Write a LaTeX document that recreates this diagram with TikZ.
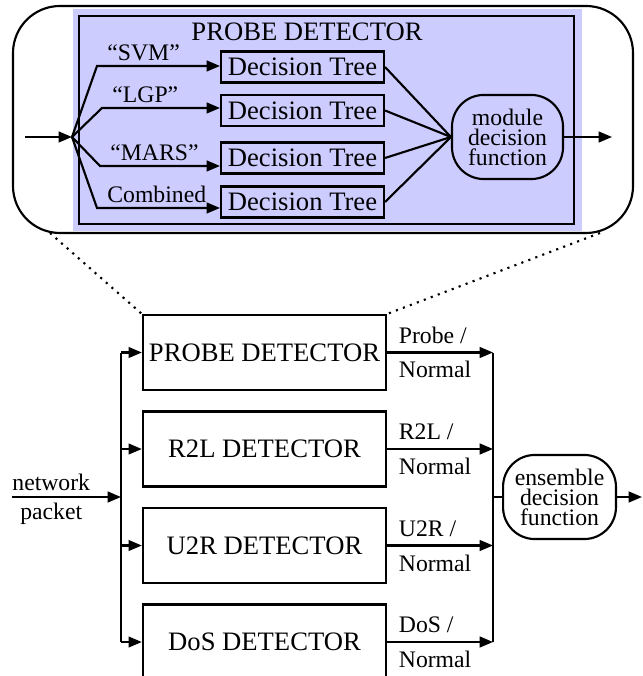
\documentclass[tikz,border=0pt]{standalone}
\usepackage{fontspec}
\setmainfont{Liberation Serif}
\usetikzlibrary{arrows.meta}

\tikzset{
    >={Triangle[length=5pt,width=4pt]},
    smallfont/.style={font=\fontsize{8.9pt}{7.5pt}\selectfont},
    treebox/.style={draw,thick,minimum width=2.15cm,minimum height=0.41cm,inner sep=1pt},
    detbox/.style={draw,thick,minimum width=3.21cm,minimum height=0.99cm,inner sep=1pt},
    decfun/.style={draw,thick,rounded corners=0.42cm,align=center,inner sep=0pt,
        minimum height=1.11cm,smallfont},
    arclabel/.style={inner sep=1.5pt,xshift=2pt,anchor=south west,smallfont},
    outlabel/.style={inner sep=3pt,xshift=1pt,smallfont},
}

\begin{document}
\begin{tikzpicture}[x=0.0132cm,y=-0.0132cm,thick]
    \useasboundingbox (0,0) rectangle (642,676);
    \draw[rounded corners=0.62cm] (13,6) rectangle (633,233);
    \fill[blue!20] (73,9) rectangle (582,231);
    \draw (79,16) rectangle (574,224);
    \node (title) at (307,32) {PROBE DETECTOR};
    \node[treebox] (svm) at (302.5,67) {Decision Tree};
    \node[treebox] (lgp) at (302.5,110.5) {Decision Tree};
    \node[treebox] (mars) at (302.5,158) {Decision Tree};
    \node[treebox] (comb) at (302.5,202) {Decision Tree};
    \node[decfun,minimum width=1.465cm] (mdf) at (507.5,137) {module\\decision\\function};
    \coordinate (pin) at (25,137);
    \coordinate (fork) at (72,137);
    \coordinate (bsvm) at (97,66);
    \coordinate (blgp) at (102,108);
    \coordinate (bmars) at (100,166);
    \coordinate (bcomb) at (97,208);
    \coordinate (pout) at (612,137);
    \draw[->] (pin) -- (fork);
    \draw[->] (fork) -- (bsvm) node[arclabel]{``SVM''} -- (bsvm -| svm.west);
    \draw[->] (fork) -- (blgp) node[arclabel]{``LGP''} -- (blgp -| lgp.west);
    \draw[->] (fork) -- (bmars) node[arclabel]{``MARS''} -- (bmars -| mars.west);
    \draw[->] (fork) -- (bcomb) node[arclabel]{Combined} -- (bcomb -| comb.west);
    \foreach \t in {svm,lgp,mars,comb}
        \draw (\t.east) -- (mdf.west);
    \draw[->] (mdf) -- (pout);

    \node[detbox] (probe) at (264.5,352.5) {PROBE DETECTOR};
    \node[detbox] (r2l) at (264.5,449) {R2L DETECTOR};
    \node[detbox] (u2r) at (264.5,545.5) {U2R DETECTOR};
    \node[detbox] (dos) at (264.5,642) {DoS DETECTOR};
    \coordinate (zl) at (50,233);
    \coordinate (zr) at (600,233);
    \draw[dotted] (zl) -- (probe.north west);
    \draw[dotted] (zr) -- (probe.north east);

    \coordinate (nin) at (12,497);
    \coordinate (inbus) at (121,497);
    \coordinate (outbus) at (493,497);
    \coordinate (eout) at (642,497);
    \draw[->] (nin) -- (inbus) node[pos=.36,above,inner sep=2pt,smallfont]{network}
        node[pos=.36,below,inner sep=2pt,smallfont]{packet};
    \draw (inbus |- probe.west) -- (inbus |- dos.west);
    \draw (outbus |- probe.east) -- (outbus |- dos.east);
    \foreach \b/\t in {probe/Probe,r2l/R2L,u2r/U2R,dos/DoS}{
        \draw[->] (inbus |- \b.west) -- (\b.west);
        \draw[->] (\b.east) -- (\b.east -| outbus)
            node[pos=0,outlabel,anchor=south west]{\t\ /}
            node[pos=0,outlabel,anchor=north west]{Normal};
    }
    \node[decfun,minimum width=1.49cm] (edf) at (559.5,497) {ensemble\\decision\\function};
    \draw (outbus) -- (edf.west);
    \draw[->] (edf) -- (eout);
\end{tikzpicture}
\end{document}
